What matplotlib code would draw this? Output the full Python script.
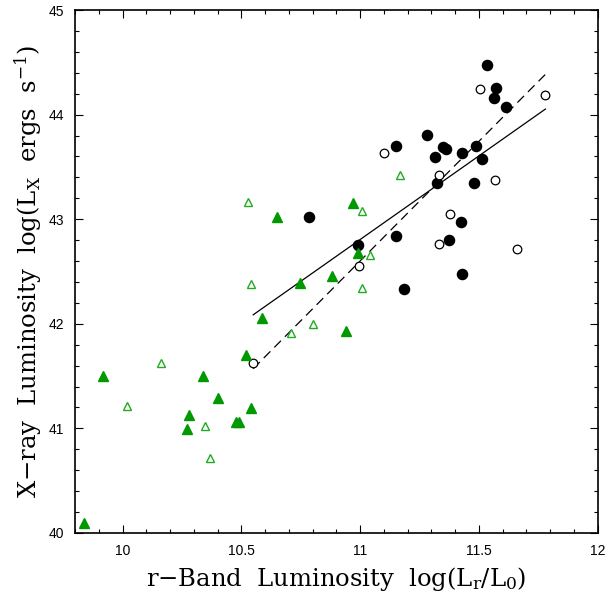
import matplotlib
matplotlib.use("Agg")
import matplotlib.pyplot as plt
from matplotlib.ticker import MultipleLocator

# filled black circles
bc_x = [11.534, 11.572, 11.565, 11.613, 11.280, 11.149, 11.350, 11.360, 11.316, 11.429,
        11.486, 11.514, 11.324, 11.479, 10.786, 10.990, 11.153, 11.426, 11.374, 11.429, 11.183]
bc_y = [44.475, 44.252, 44.159, 44.073, 43.804, 43.701, 43.690, 43.670, 43.591, 43.631,
        43.701, 43.571, 43.342, 43.346, 43.020, 42.757, 42.841, 42.970, 42.801, 42.475, 42.329]

# open black circles
oc_x = [11.504, 11.780, 11.101, 11.334, 11.569, 11.380, 11.333, 11.661, 10.997, 10.550]
oc_y = [44.246, 44.183, 43.631, 43.425, 43.379, 43.047, 42.764, 42.711, 42.552, 41.621]

# filled green triangles
gt_x = [10.969, 10.650, 10.990, 10.880, 10.748, 10.588, 10.939, 10.520, 9.919, 10.340,
        10.401, 10.541, 10.279, 10.271, 10.476, 10.490, 9.839]
gt_y = [43.153, 43.017, 42.681, 42.455, 42.392, 42.057, 41.934, 41.704, 41.505, 41.505,
        41.292, 41.193, 41.126, 40.993, 41.063, 41.063, 40.096]

# open green triangles
ot_x = [10.530, 11.010, 11.170, 11.040, 10.541, 11.010, 10.800, 10.708, 10.160, 10.020,
        10.348, 10.370]
ot_y = [43.163, 43.083, 43.422, 42.654, 42.382, 42.342, 42.000, 41.910, 41.621, 41.213,
        41.023, 40.721]

# fitted lines
fit_x = [10.55, 11.78]
fit_solid = [42.086, 44.053]
fit_dashed = [41.571, 44.385]

plt.rcParams["mathtext.fontset"] = "dejavuserif"

fig = plt.figure(figsize=(6.08, 6.03), dpi=100)
ax = fig.add_axes([75 / 608, 1 - 533 / 603, (597.7 - 75) / 608, (533 - 10) / 603])

ax.plot(fit_x, fit_solid, color="black", lw=0.9)
ax.plot(fit_x, fit_dashed, color="black", lw=0.9, dashes=(7.5, 4.5))

ax.plot(bc_x, bc_y, "o", color="black", ms=7.3, mec="black")
ax.plot(oc_x, oc_y, "o", mfc="white", mec="black", ms=6.2, mew=0.9)
ax.plot(gt_x, gt_y, "^", color="#009900", mec="#009900", ms=7)
ax.plot(ot_x, ot_y, "^", mfc="white", mec="#22aa22", ms=6.3, mew=1.0)

ax.set_xlim(9.8, 12)
ax.set_ylim(40, 45)
ax.xaxis.set_major_locator(MultipleLocator(0.5))
ax.xaxis.set_minor_locator(MultipleLocator(0.1))
ax.yaxis.set_major_locator(MultipleLocator(1))
ax.yaxis.set_minor_locator(MultipleLocator(0.2))
ax.set_xticks([10, 10.5, 11, 11.5, 12])
ax.set_xticklabels(["10", "10.5", "11", "11.5", "12"])
ax.tick_params(which="both", direction="in", top=True, right=True,
               labelsize=10, width=0.8, pad=8)
ax.tick_params(which="major", length=6)
ax.tick_params(which="minor", length=3)
for s in ax.spines.values():
    s.set_linewidth(1.2)
for lab in ax.get_xticklabels() + ax.get_yticklabels():
    lab.set_family("Liberation Sans")

ax.set_xlabel("r\u2212Band  Luminosity  log(L$_\\mathrm{r}$/L$_\\mathrm{0}$)",
              family="DejaVu Serif", fontsize=17.5, labelpad=5)
ax.set_ylabel("X\u2212ray  Luminosity  log(L$_\\mathrm{X}$  ergs  s$^{-1}$)",
              family="DejaVu Serif", fontsize=17.5, labelpad=3)

fig.savefig("out.png", dpi=100)
